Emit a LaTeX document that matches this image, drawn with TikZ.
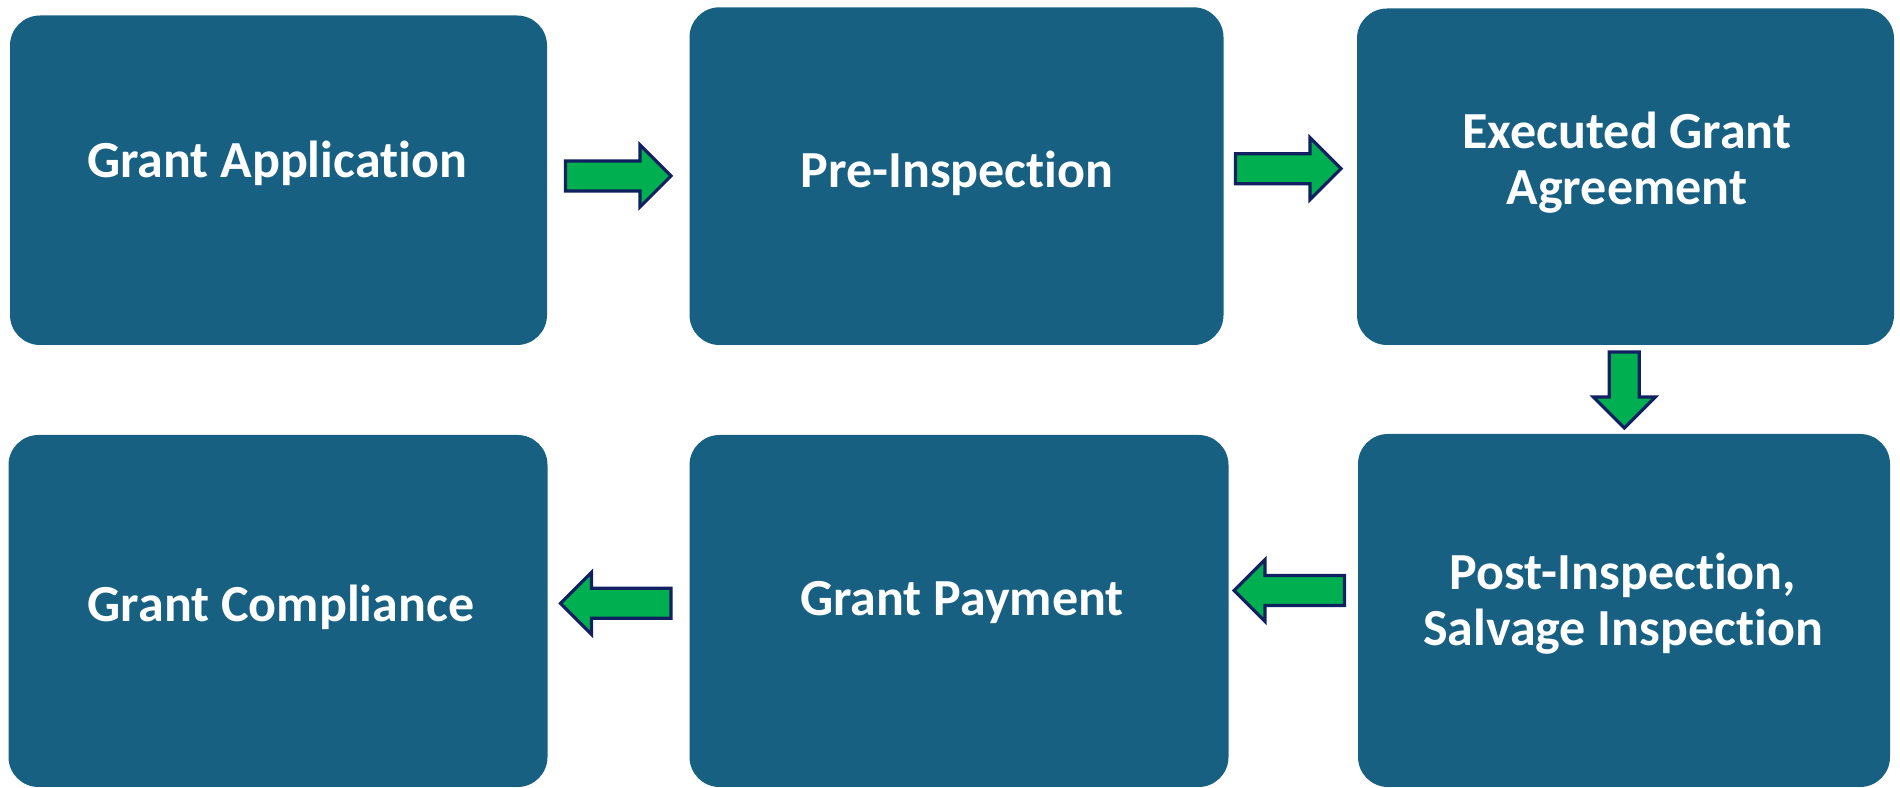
\documentclass[tikz,border=0pt]{standalone}
\usepackage{fontspec}
\setmainfont{Carlito}[Ligatures=NoCommon]
\definecolor{boxblue}{RGB}{24,96,130}
\definecolor{argreen}{RGB}{0,176,80}
\definecolor{arnavy}{RGB}{16,32,96}
\tikzset{
  stepbox/.style={fill=boxblue, rounded corners=0.3cm, inner sep=0pt},
  lbl/.style={text=white, font=\fontsize{14.8pt}{16pt}\selectfont\bfseries, align=center, anchor=base, inner sep=0pt},
  blockarrow/.style={fill=argreen, draw=arnavy, line width=0.9pt, line join=miter},
  pics/barrow/.style={code={
    \draw[blockarrow] (0,-15) -- (#1-31,-15) -- (#1-31,-31) -- (#1,0) -- (#1-31,31) -- (#1-31,15) -- (0,15) -- cycle;
  }}
}
\begin{document}
\begin{tikzpicture}[x=0.01cm,y=0.01cm]
\useasboundingbox (0,0) rectangle (1900,788);
% boxes
\path[stepbox] (10,443) rectangle (547,772.5) node[pos=0.5] (b1) {};
\path[stepbox] (689.5,443) rectangle (1223.5,780.7) node[pos=0.5] (b2) {};
\path[stepbox] (1357,443) rectangle (1894,779.5) node[pos=0.5] (b3) {};
\path[stepbox] (8.5,1) rectangle (547.5,353) node[pos=0.5] (b4) {};
\path[stepbox] (689.5,1) rectangle (1228.5,353) node[pos=0.5] (b5) {};
\path[stepbox] (1358,1) rectangle (1890,354) node[pos=0.5] (b6) {};
% labels (base anchor = baseline of last line)
\node[lbl] (t1) at (277,610) {Grant Application};
\node[lbl] (t2) at (957,600) {Pre-Inspection};
\node[lbl] (t3) at (1627,583) {Executed Grant\\Agreement};
\node[lbl] (t6) at (1623,142) {Post-Inspection,\\Salvage Inspection};
\node[lbl] (t5) at (962,172) {Grant Payment};
\node[lbl] (t4) at (281,166) {Grant Compliance};
% arrows
\coordinate (a1) at (565.5,612);
\coordinate (a2) at (1235.5,619.3);
\coordinate (a3) at (1624.3,436);
\coordinate (a4) at (1344.5,197.5);
\coordinate (a5) at (671,184.7);
\pic at (a1) {barrow=105.5};
\pic at (a2) {barrow=105.5};
\pic[rotate=-90] at (a3) {barrow=76};
\pic[rotate=180] at (a4) {barrow=110.5};
\pic[rotate=180] at (a5) {barrow=110.5};
\end{tikzpicture}
\end{document}
